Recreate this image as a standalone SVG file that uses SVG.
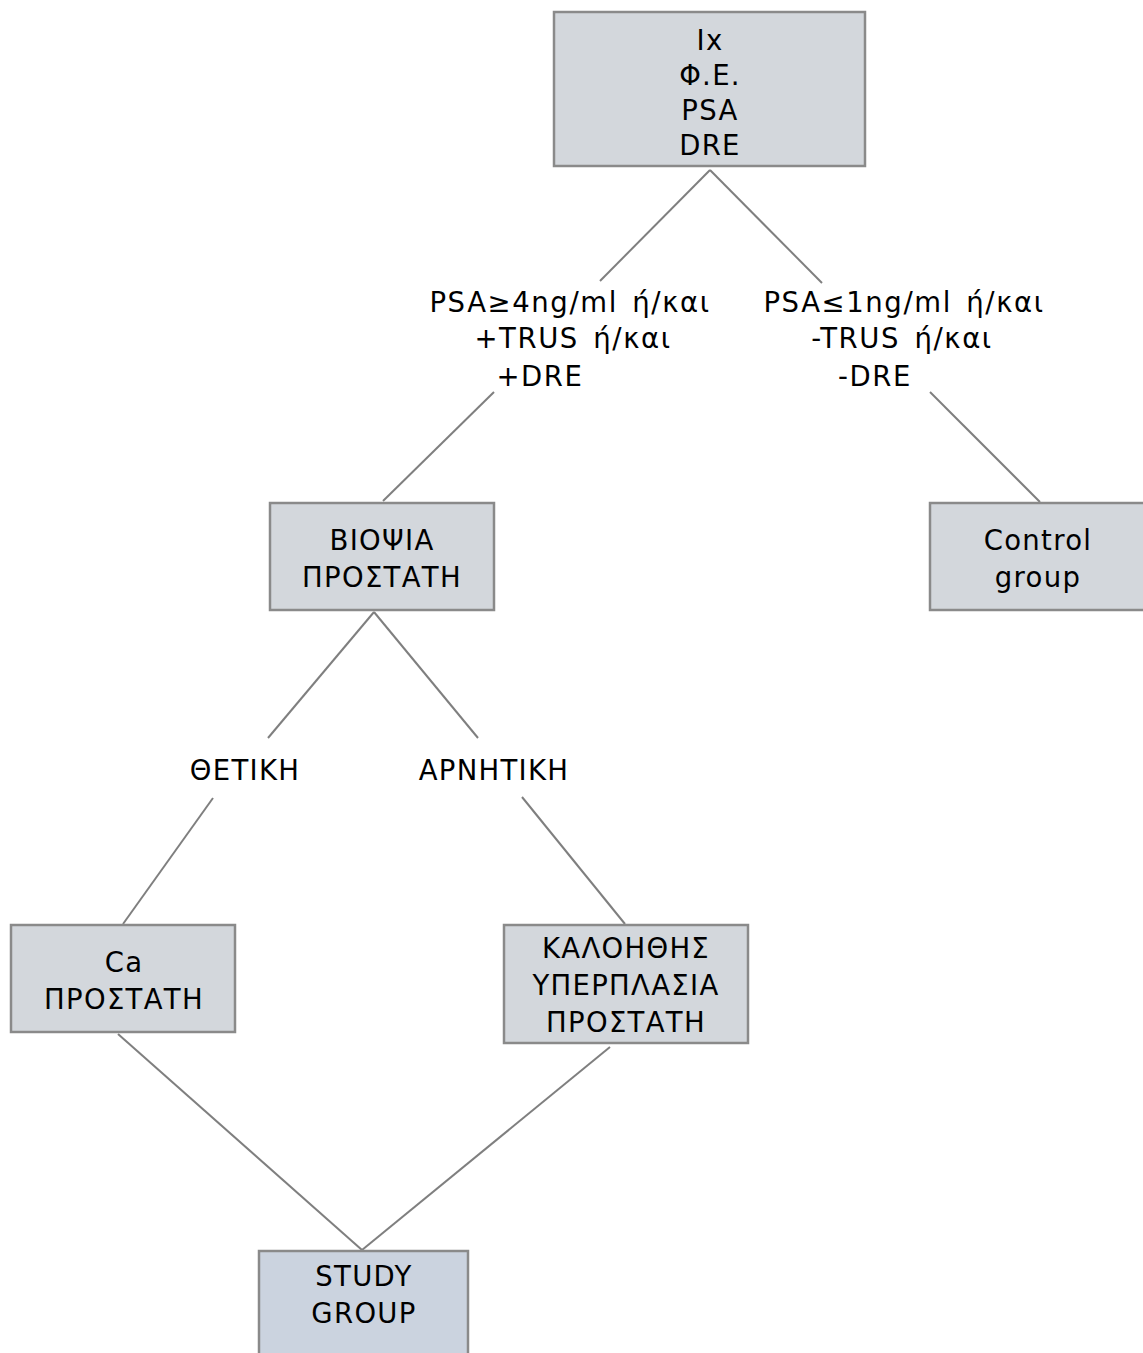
<svg xmlns="http://www.w3.org/2000/svg" width="1143" height="1353" viewBox="0 0 1143 1353">
<style>
.box{fill:#d3d7dc;stroke:#8a8a8a;stroke-width:2.5}
.box2{fill:#cbd3df;stroke:#8a8a8a;stroke-width:2.5}
.ln{stroke:#7f7f7f;stroke-width:2;fill:none}
text{font-family:"DejaVu Sans",Verdana,sans-serif;font-size:27.5px;letter-spacing:1.3px;fill:#000;text-anchor:middle}
.el{letter-spacing:1.6px;word-spacing:4px}
</style>
<rect width="1143" height="1353" fill="#fff"/>
<g id="connectors">
<line class="ln" x1="710" y1="170" x2="600" y2="281"/>
<line class="ln" x1="710" y1="170" x2="822" y2="283"/>
<line class="ln" x1="494" y1="392" x2="383" y2="501"/>
<line class="ln" x1="930" y1="392" x2="1040" y2="502"/>
<line class="ln" x1="374" y1="612" x2="268" y2="738"/>
<line class="ln" x1="374" y1="612" x2="478" y2="738"/>
<line class="ln" x1="213" y1="798" x2="123" y2="924"/>
<line class="ln" x1="522" y1="797" x2="625" y2="924"/>
<line class="ln" x1="118" y1="1034" x2="362" y2="1250"/>
<line class="ln" x1="610" y1="1047" x2="362" y2="1250"/>
</g>
<g id="n-top">
<rect class="box" x="554" y="12" width="311" height="154"/>
<text x="710" y="50">Ix</text>
<text x="710" y="85">Φ.Ε.</text>
<text x="710" y="120">PSA</text>
<text x="710" y="155">DRE</text>
</g>
<g id="e-left">
<text class="el" x="570" y="312">PSA≥4ng/ml ή/και</text>
<text class="el" x="573" y="348">+TRUS ή/και</text>
<text class="el" x="540" y="386">+DRE</text>
</g>
<g id="e-right">
<text class="el" x="904" y="312">PSA≤1ng/ml ή/και</text>
<text class="el" x="902" y="348">-TRUS ή/και</text>
<text class="el" x="875" y="386">-DRE</text>
</g>
<g id="n-biopsy">
<rect class="box" x="270" y="503" width="224" height="107"/>
<text x="382" y="550">ΒΙΟΨΙΑ</text>
<text x="382" y="587">ΠΡΟΣΤΑΤΗ</text>
</g>
<g id="n-control">
<rect class="box" x="930" y="503" width="220" height="107"/>
<text x="1038" y="550">Control</text>
<text x="1038" y="587">group</text>
</g>
<g id="e-pos"><text x="245" y="780">ΘΕΤΙΚΗ</text></g>
<g id="e-neg"><text x="494" y="780">ΑΡΝΗΤΙΚΗ</text></g>
<g id="n-ca">
<rect class="box" x="11" y="925" width="224" height="107"/>
<text x="124" y="972">Ca</text>
<text x="124" y="1009">ΠΡΟΣΤΑΤΗ</text>
</g>
<g id="n-bph">
<rect class="box" x="504" y="925" width="244" height="118"/>
<text x="626" y="958">ΚΑΛΟΗΘΗΣ</text>
<text x="626" y="995">ΥΠΕΡΠΛΑΣΙΑ</text>
<text x="626" y="1032">ΠΡΟΣΤΑΤΗ</text>
</g>
<g id="n-study">
<rect class="box2" x="259" y="1251" width="209" height="110"/>
<text x="364" y="1286">STUDY</text>
<text x="364" y="1323">GROUP</text>
</g>
</svg>
